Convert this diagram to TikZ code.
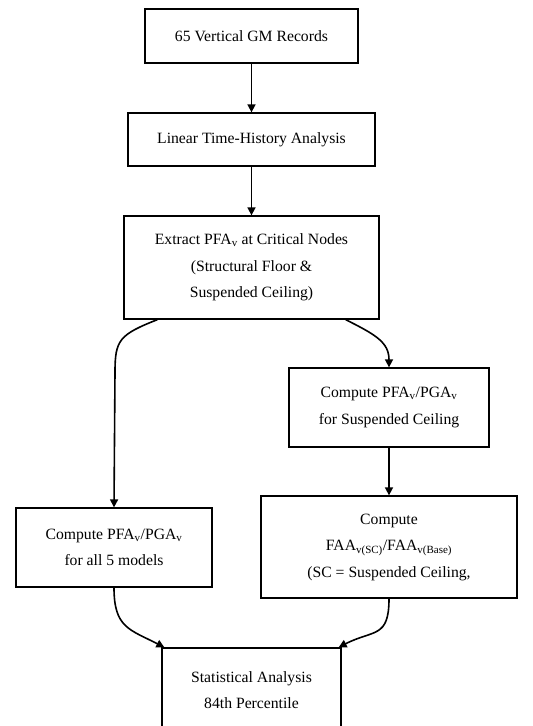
\documentclass[tikz,border=0pt]{standalone}
\usepackage{fontspec}
\setmainfont{Liberation Serif}
\usetikzlibrary{arrows.meta,calc}
\begin{document}
\begin{tikzpicture}[x=1pt,y=-1pt,
  box/.style={draw=black,line width=1.3pt,align=center,inner sep=0pt,
    font=\fontsize{15.7}{26.5}\selectfont},
  arr/.style={draw=black,line width=1.6pt,-{Triangle[width=8pt,length=8pt]}}]
\useasboundingbox (0,0) rectangle (533,726);
\clip (0,0) rectangle (533,726);
\node[box,minimum width=213pt,minimum height=54pt] (b1) at (251.5,36) {65 Vertical GM Records};
\node[box,minimum width=247pt,minimum height=53pt] (b2) at (251.5,139.5) {Linear Time-History Analysis};
\node[box,minimum width=255pt,minimum height=103pt] (b3) at (251.5,267.5) {Extract PFA\textsubscript{v} at Critical Nodes\\(Structural Floor \&\\Suspended Ceiling)};
\node[box,minimum width=200pt,minimum height=79pt] (b4) at (389,407.5) {Compute PFA\textsubscript{v}/PGA\textsubscript{v}\\for Suspended Ceiling};
\node[box,minimum width=196pt,minimum height=79pt] (b5) at (114,547.5) {Compute PFA\textsubscript{v}/PGA\textsubscript{v}\\for all 5 models};
\node[box,minimum width=256pt,minimum height=102pt] (b6) at (389,547) {Compute\\FAA\textsubscript{v(SC)}/FAA\textsubscript{v(Base)}\\(SC = Suspended Ceiling,};
\node[box,minimum width=179pt,minimum height=84pt] (b7) at (251.5,690) {Statistical Analysis\\84th Percentile};
\coordinate (lbend) at (115,372);
\draw[arr] (b1.south) -- (b2.north);
\draw[arr] (b2.south) -- (b3.north);
\draw[arr] ([xshift=34pt]b3.south west) .. controls +(-38,15) and +(0,-32) .. (lbend) -- (b5.north);
\draw[arr] ([xshift=-34pt]b3.south east) .. controls +(30,15) and +(0,-25) .. (b4.north);
\draw[arr] (b4.south) -- (b6.north);
\draw[arr] (b5.south) .. controls +(0,40) and +(-35,-18) .. ([xshift=3pt]b7.north west);
\draw[arr] (b6.south) .. controls +(0,40) and +(35,-18) .. ([xshift=-3pt]b7.north east);
\end{tikzpicture}
\end{document}
